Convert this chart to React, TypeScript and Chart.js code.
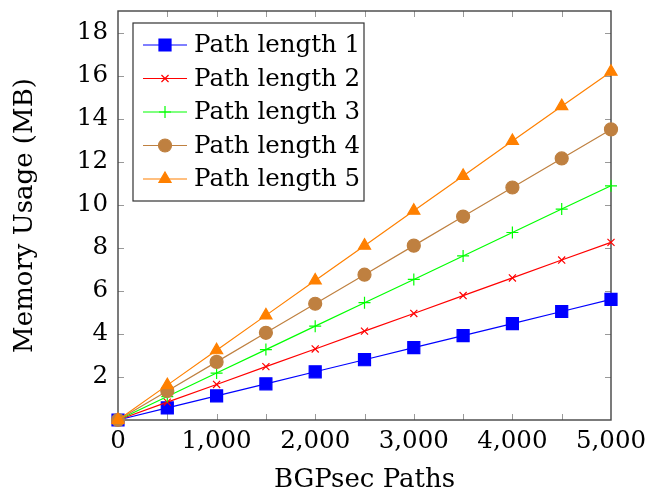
import React, { useEffect, useRef } from 'react';
import { Chart, registerables } from 'chart.js';
import { drawPoint } from 'chart.js/helpers';

Chart.register(...registerables);

const xValues = [0, 500, 1000, 1500, 2000, 2500, 3000, 3500, 4000, 4500, 5000];
const path1 = [0, 0.56, 1.12, 1.68, 2.24, 2.8, 3.36, 3.92, 4.48, 5.04, 5.6];
const path2 = [0, 0.83, 1.65, 2.48, 3.3, 4.13, 4.95, 5.78, 6.6, 7.43, 8.25];
const path3 = [0, 1.09, 2.18, 3.27, 4.36, 5.45, 6.53, 7.62, 8.71, 9.8, 10.88];
const path4 = [0, 1.35, 2.7, 4.05, 5.4, 6.75, 8.1, 9.45, 10.8, 12.15, 13.5];
const path5 = [0, 1.62, 3.24, 4.86, 6.48, 8.1, 9.72, 11.34, 12.96, 14.58, 16.18];

const seriesLabels = ['Path length 1', 'Path length 2', 'Path length 3', 'Path length 4', 'Path length 5'];
const seriesData = [path1, path2, path3, path4, path5];
const seriesColors = ['#0000ff', '#ff0000', '#00ff00', '#bf8040', '#ff8000'];
const pointStyles = ['rect', 'crossRot', 'cross', 'circle', 'triangle'];
const pointRadii = [8.5, 5, 6, 6.5, 7];

const xTickValues = [500, 1000, 1500, 2000, 2500, 3000, 3500, 4000, 4500];
const yTickValues = [2, 4, 6, 8, 10, 12, 14, 16, 18];
const xLabelStep = 1000;

const xTitle = 'BGPsec Paths';
const yTitle = 'Memory Usage (MB)';

const FONT = "'DejaVu Serif', serif";

const framePlugin = {
  id: 'frame',
  beforeDatasetsDraw(chart: any) {
    const { ctx, chartArea } = chart;
    const xs = chart.scales.x;
    const ys = chart.scales.y;
    const { left, right, top, bottom } = chartArea;
    ctx.save();
    ctx.strokeStyle = '#999999';
    ctx.lineWidth = 1;
    const tl = 6;
    xTickValues.forEach((v) => {
      const px = Math.round(xs.getPixelForValue(v)) + 0.5;
      ctx.beginPath();
      ctx.moveTo(px, bottom);
      ctx.lineTo(px, bottom - tl);
      ctx.moveTo(px, top);
      ctx.lineTo(px, top + tl);
      ctx.stroke();
    });
    yTickValues.forEach((v) => {
      const py = Math.round(ys.getPixelForValue(v)) + 0.5;
      ctx.beginPath();
      ctx.moveTo(left, py);
      ctx.lineTo(left + tl, py);
      ctx.moveTo(right, py);
      ctx.lineTo(right - tl, py);
      ctx.stroke();
    });
    ctx.strokeStyle = '#444444';
    ctx.lineWidth = 1.4;
    ctx.strokeRect(left, top, right - left, bottom - top);
    ctx.restore();
  },
};

const legendPlugin = {
  id: 'insideLegend',
  afterDatasetsDraw(chart: any) {
    const { ctx, chartArea } = chart;
    const bx = chartArea.left + 15;
    const by = chartArea.top + 12;
    const bw = 231;
    const bh = 178;
    ctx.save();
    ctx.fillStyle = '#ffffff';
    ctx.fillRect(bx, by, bw, bh);
    ctx.strokeStyle = '#333333';
    ctx.lineWidth = 1.2;
    ctx.strokeRect(bx, by, bw, bh);
    ctx.font = `24.5px ${FONT}`;
    ctx.textBaseline = 'middle';
    ctx.textAlign = 'left';
    seriesLabels.forEach((label, i) => {
      const cy = by + 22 + i * 33.5;
      ctx.strokeStyle = seriesColors[i];
      ctx.lineWidth = 1.2;
      ctx.beginPath();
      ctx.moveTo(bx + 10, cy);
      ctx.lineTo(bx + 54, cy);
      ctx.stroke();
      ctx.fillStyle = seriesColors[i];
      ctx.strokeStyle = seriesColors[i];
      ctx.lineWidth = 1.2;
      drawPoint(ctx, { pointStyle: pointStyles[i], radius: pointRadii[i], rotation: 0, borderWidth: 1.2 } as any, bx + 32, cy);
      ctx.fillStyle = '#000000';
      ctx.fillText(label, bx + 61, cy + 1);
    });
    ctx.restore();
  },
};

export default function App() {
  const canvasRef = useRef<HTMLCanvasElement | null>(null);

  useEffect(() => {
    document.body.style.margin = '0';
    const canvas = canvasRef.current;
    if (!canvas) return;
    const datasets = seriesLabels.map((label, i) => ({
      label,
      data: xValues.map((x, j) => ({ x, y: seriesData[i][j] })),
      borderColor: seriesColors[i],
      backgroundColor: seriesColors[i],
      borderWidth: 1.2,
      pointStyle: pointStyles[i],
      pointRadius: pointRadii[i],
      pointBorderWidth: 1.2,
      pointBorderColor: seriesColors[i],
      pointBackgroundColor: seriesColors[i],
      tension: 0,
      clip: false as any,
      order: 4 - i,
    }));
    const chart = new Chart(canvas, {
      type: 'line',
      data: { datasets },
      options: {
        animation: false,
        responsive: false,
        maintainAspectRatio: false,
        layout: { padding: { left: 0, right: 36, top: 11, bottom: 0 } },
        plugins: { legend: { display: false }, tooltip: { enabled: false } },
        scales: {
          x: {
            type: 'linear',
            min: 0,
            max: 5000,
            grid: { display: false, drawTicks: false },
            border: { display: false },
            ticks: {
              stepSize: 500,
              padding: 7,
              color: '#000',
              font: { family: FONT, size: 24.5 },
              maxRotation: 0,
              autoSkip: false,
              callback: (v: any) => (Number(v) % xLabelStep === 0 ? Number(v).toLocaleString('en-US') : ''),
            },
            title: {
              display: true,
              text: xTitle,
              color: '#000',
              font: { family: FONT, size: 26 },
              padding: { top: 4, bottom: 2 },
            },
            afterFit: (scale: any) => {
              scale.height = 78;
              scale.paddingLeft = 0;
              scale.paddingRight = 0;
            },
          },
          y: {
            type: 'linear',
            min: 0,
            max: 19,
            grid: { display: false, drawTicks: false },
            border: { display: false },
            ticks: {
              stepSize: 2,
              includeBounds: false,
              padding: 10,
              color: '#000',
              font: { family: FONT, size: 24.5 },
              callback: (v: any) => (Number(v) === 0 ? '' : String(v)),
            },
            title: {
              display: true,
              text: yTitle,
              color: '#000',
              font: { family: FONT, size: 26 },
              padding: { top: 10, bottom: 4 },
            },
            afterFit: (scale: any) => {
              scale.width = 118;
              scale.paddingTop = 0;
              scale.paddingBottom = 0;
            },
          },
        },
      },
      plugins: [framePlugin, legendPlugin],
    });
    return () => chart.destroy();
  }, []);

  return (
    <div style={{ position: 'absolute', left: 0, top: 0, width: 647, height: 498, background: '#fff' }}>
      <canvas ref={canvasRef} width={647} height={498} style={{ width: 647, height: 498 }} />
    </div>
  );
}
